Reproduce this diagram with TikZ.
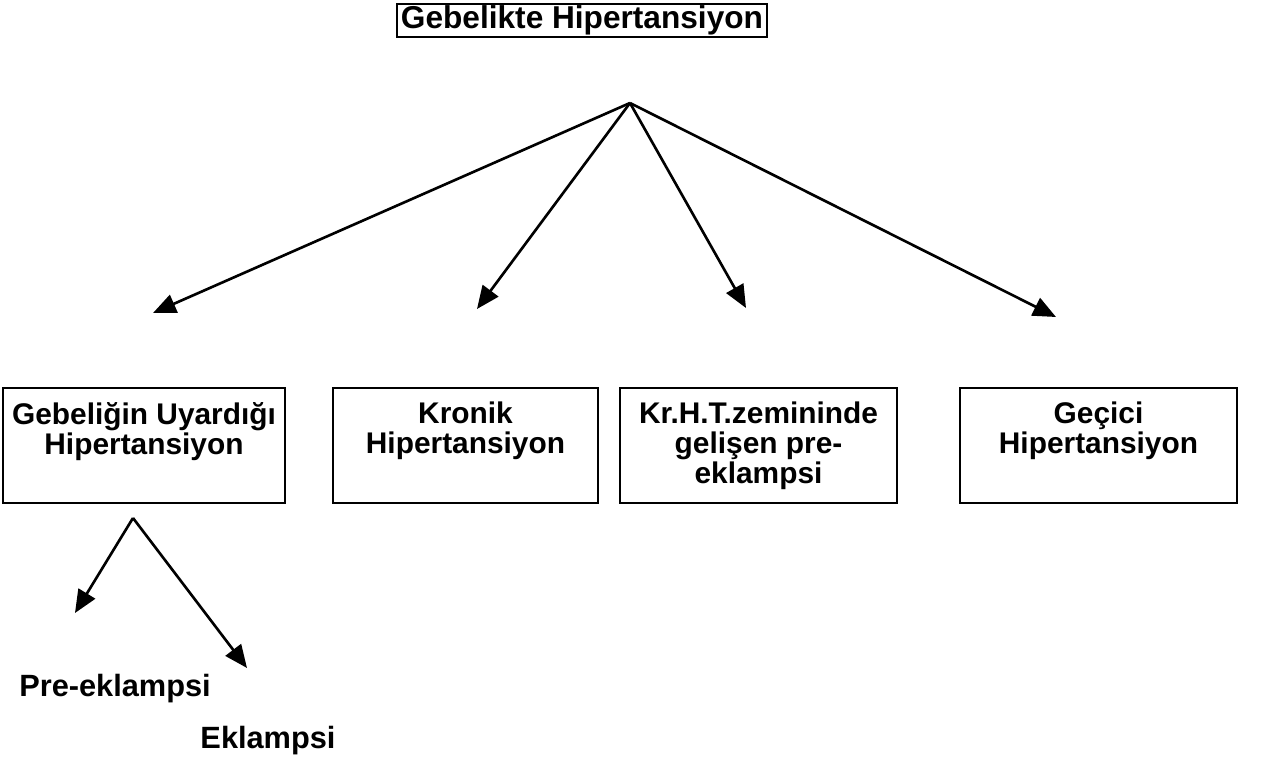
\documentclass[tikz,border=0pt]{standalone}
\usepackage{fontspec}
\setmainfont{Liberation Sans}
\usetikzlibrary{positioning,arrows.meta}
\tikzset{
  kutu/.style={draw=black,line width=0.9pt,minimum height=2.3cm,inner sep=0pt},
  yazi/.style={align=center,font=\fontsize{17}{17}\selectfont\bfseries,inner sep=0pt,anchor=north},
  ok/.style={-{Triangle[length=13pt,width=11pt]},line width=1.5pt},
}

\begin{document}
\begin{tikzpicture}[x=0.02cm,y=-0.02cm]
  \useasboundingbox (0,0) rectangle (1285,759);
  \node[kutu,font=\fontsize{18}{18}\selectfont\bfseries,minimum width=7.4cm,minimum height=0.66cm] (baslik) at (582,20.5) {Gebelikte Hipertansiyon};
  % alt kutular
  \node[kutu,minimum width=5.64cm] (guh) at (144,445.5) {};
  \node[kutu,minimum width=5.3cm] (kh) at (465.5,445.5) {};
  \node[kutu,minimum width=5.54cm] (krht) at (758.5,445.5) {};
  \node[kutu,minimum width=5.54cm] (gh) at (1098.5,445.5) {};
  \node[yazi] (guhy) at (144,402) {Gebeliğin Uyardığı\\Hipertansiyon};
  \node[yazi] (khy) at (465.5,402) {Kronik\\Hipertansiyon};
  \node[yazi] (krhty) at (758.5,402) {Kr.H.T.zemininde\\gelişen pre-\\eklampsi};
  \node[yazi] (ghy) at (1098.5,402) {Geçici\\Hipertansiyon};
  \node[yazi,anchor=center,font=\fontsize{17.5}{17.5}\selectfont\bfseries] (pre) at (115,689) {Pre-eklampsi};
  \node[yazi,anchor=center,font=\fontsize{17.5}{17.5}\selectfont\bfseries] (ekl) at (268,741) {Eklampsi};
  % oklar
  \coordinate (tepe) at (630,103);
  \coordinate (u1) at (153,313);
  \coordinate (u2) at (477,309);
  \coordinate (u3) at (746,308);
  \coordinate (u4) at (1056,317);
  \foreach \u in {u1,u2,u3,u4} \draw[ok] (tepe) -- (\u);
  \coordinate (tepe2) at (133,518);
  \coordinate (a1) at (75,613);
  \coordinate (a2) at (247,668);
  \foreach \u in {a1,a2} \draw[ok] (tepe2) -- (\u);
\end{tikzpicture}
\end{document}
